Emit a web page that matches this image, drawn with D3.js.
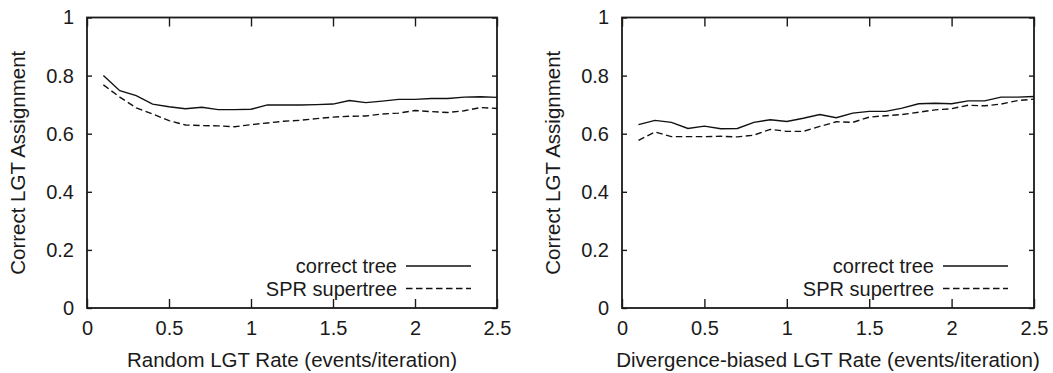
<!DOCTYPE html>
<html>
<head>
<meta charset="utf-8">
<script src="https://cdn.jsdelivr.net/npm/d3@7"></script>
<style>
  html, body { margin: 0; padding: 0; background: #fff; }
  svg { display: block; }
  text { font-family: "Liberation Sans", Arial, Helvetica, sans-serif; fill: #1a1a1a; }
</style>
</head>
<body>
<svg id="chart" width="1053" height="373"></svg>
<script>
// ---- data ----
const rates = [0.1,0.2,0.3,0.4,0.5,0.6,0.7,0.8,0.9,1.0,1.1,1.2,1.3,1.4,1.5,1.6,1.7,1.8,1.9,2.0,2.1,2.2,2.3,2.4,2.5];

const randomCorrectTree = [0.800,0.748,0.731,0.702,0.693,0.686,0.691,0.683,0.683,0.684,0.699,0.699,0.699,0.700,0.702,0.714,0.707,0.712,0.718,0.718,0.721,0.721,0.726,0.727,0.725];
const randomSPR = [0.768,0.726,0.689,0.668,0.645,0.630,0.628,0.627,0.624,0.631,0.637,0.643,0.646,0.652,0.657,0.660,0.661,0.668,0.671,0.680,0.676,0.673,0.679,0.690,0.687];

const divCorrectTree = [0.631,0.646,0.639,0.618,0.626,0.617,0.618,0.639,0.648,0.642,0.653,0.666,0.655,0.671,0.677,0.677,0.688,0.703,0.705,0.703,0.713,0.713,0.726,0.726,0.728];
const divSPR = [0.577,0.606,0.590,0.590,0.590,0.591,0.589,0.595,0.615,0.608,0.608,0.625,0.641,0.639,0.657,0.662,0.666,0.674,0.682,0.686,0.698,0.696,0.702,0.714,0.719];

const xTicks = [0, 0.5, 1, 1.5, 2, 2.5];
const yTicks = [0, 0.2, 0.4, 0.6, 0.8, 1];
const seriesNames = ["correct tree", "SPR supertree"];
const yTitle = "Correct LGT Assignment";
const xTitles = ["Random LGT Rate (events/iteration)", "Divergence-biased LGT Rate (events/iteration)"];

// ---- layout ----
const svg = d3.select("#chart");
const panels = [
  { left: 87, right: 497, top: 17.5, bottom: 308, ylabelX: 17.5, a: randomCorrectTree, b: randomSPR, title: xTitles[0] },
  { left: 622, right: 1034, top: 17.5, bottom: 308, ylabelX: 552.5, a: divCorrectTree, b: divSPR, title: xTitles[1] }
];
const dash = "6.5,3.5";

panels.forEach(p => {
  const x = d3.scaleLinear().domain([0, 2.5]).range([p.left, p.right]);
  const y = d3.scaleLinear().domain([0, 1]).range([p.bottom, p.top]);
  const g = svg.append("g");

  const fmt = d => d3.format("")(d);
  const xAxB = d3.axisBottom(x).tickValues(xTicks).tickSize(-9).tickFormat(fmt).tickPadding(13);
  const xAxT = d3.axisTop(x).tickValues(xTicks).tickSize(-9).tickFormat("");
  const yAxL = d3.axisLeft(y).tickValues(yTicks).tickSize(-5).tickFormat(fmt).tickPadding(13);
  const yAxR = d3.axisRight(y).tickValues(yTicks).tickSize(-5).tickFormat("");

  const styleAxis = sel => {
    sel.select(".domain").remove();
    sel.selectAll(".tick line").attr("stroke", "#1a1a1a").attr("stroke-width", 1.4);
    sel.selectAll(".tick text").attr("font-size", 20).attr("fill", "#1a1a1a")
       .style("font-family", '"Liberation Sans", Arial, sans-serif');
  };
  g.append("g").attr("transform", `translate(0,${p.bottom})`).call(xAxB).call(styleAxis)
    .selectAll(".tick text").attr("dy", "0.71em");
  g.append("g").attr("transform", `translate(0,${p.top})`).call(xAxT).call(styleAxis);
  g.append("g").attr("transform", `translate(${p.left},0)`).call(yAxL).call(styleAxis);
  g.append("g").attr("transform", `translate(${p.right},0)`).call(yAxR).call(styleAxis);

  g.append("rect").attr("x", p.left).attr("y", p.top)
    .attr("width", p.right - p.left).attr("height", p.bottom - p.top)
    .attr("fill", "none").attr("stroke", "#1a1a1a").attr("stroke-width", 1.8);

  const line = d3.line().x((d, i) => x(rates[i])).y(d => y(d));
  g.append("path").datum(p.a).attr("d", line).attr("fill", "none")
    .attr("stroke", "#111").attr("stroke-width", 1.4);
  g.append("path").datum(p.b).attr("d", line).attr("fill", "none")
    .attr("stroke", "#111").attr("stroke-width", 1.4).attr("stroke-dasharray", dash);

  const lx2 = p.right - 26, lx1 = lx2 - 65;
  const rows = [266, 288.5];
  seriesNames.forEach((name, i) => {
    g.append("text").attr("x", lx1 - 9).attr("y", rows[i]).attr("dy", "0.35em")
      .attr("text-anchor", "end").attr("font-size", 20).text(name);
    g.append("line").attr("x1", lx1).attr("x2", lx2).attr("y1", rows[i]).attr("y2", rows[i])
      .attr("stroke", "#111").attr("stroke-width", 1.4)
      .attr("stroke-dasharray", i === 1 ? dash : null);
  });

  g.append("text").attr("x", (p.left + p.right) / 2).attr("y", 367)
    .attr("text-anchor", "middle").attr("font-size", 20.5).text(p.title);
  g.append("text").attr("transform", `translate(${p.ylabelX},${(p.top + p.bottom) / 2}) rotate(-90)`)
    .attr("dy", "0.35em").attr("text-anchor", "middle").attr("font-size", 20.5).text(yTitle);
});
</script>
</body>
</html>
